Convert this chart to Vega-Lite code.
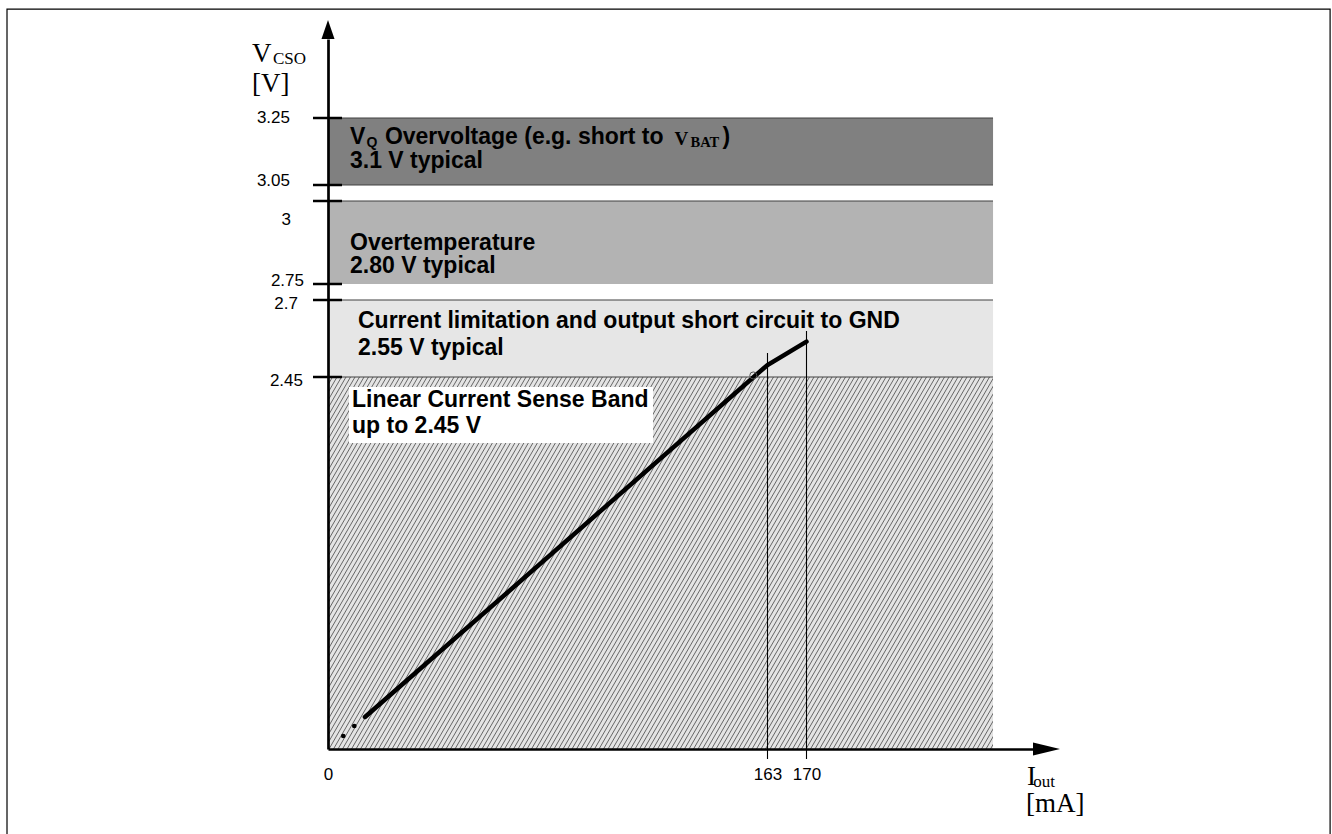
{
  "$schema": "https://vega.github.io/schema/vega-lite/v6.json",
  "width": 665,
  "height": 372,
  "autosize": "none",
  "padding": {"left": 328, "top": 377, "right": 339, "bottom": 85},
  "background": "white",
  "config": {"view": {"stroke": null}},
  "datasets": {
    "bands": [
      {"b": "ov", "lo": 3.05, "hi": 3.25},
      {"b": "ot", "lo": 2.75, "hi": 3.0},
      {"b": "cl", "lo": 2.45, "hi": 2.7},
      {"b": "lin", "lo": 0, "hi": 2.45}
    ],
    "edges": [{"v": 3.25}, {"v": 3.05}, {"v": 3.0}, {"v": 2.7}, {"v": 2.45}],
    "yticks": [{"v": 3.25}, {"v": 3.05}, {"v": 3.0}, {"v": 2.75}, {"v": 2.7}, {"v": 2.45}],
    "ylabels": [
      {"t": "3.25", "x": -14.09, "y": 3.25},
      {"t": "3.05", "x": -14.09, "y": 3.062},
      {"t": "3", "x": -13.72, "y": 2.943},
      {"t": "2.75", "x": -8.9, "y": 2.759},
      {"t": "2.7", "x": -11.13, "y": 2.687},
      {"t": "2.45", "x": -9.27, "y": 2.4236}
    ],
    "curve": [
      {"i": 13.72, "v": 0.211},
      {"i": 163, "v": 2.489},
      {"i": 170, "v": 2.565}
    ],
    "dots": [{"i": 5.67, "v": 0.0856}, {"i": 9.75, "v": 0.1515}],
    "vlines": [{"i": 163, "top": 2.528}, {"i": 170, "top": 2.599}],
    "ring": [{"i": 157.74, "v": 2.455}],
    "bold23": [
      {"t": "V", "x": 8.16, "y": 3.172},
      {"t": "Overvoltage (e.g. short to", "x": 21.1, "y": 3.172},
      {"t": ")", "x": 146.3, "y": 3.172},
      {"t": "3.1 V typical", "x": 8.16, "y": 3.101},
      {"t": "Overtemperature", "x": 8.16, "y": 2.852},
      {"t": "2.80 V typical", "x": 8.16, "y": 2.783},
      {"t": "Current limitation and output short circuit to GND", "x": 11.13, "y": 2.608},
      {"t": "2.55 V typical", "x": 11.13, "y": 2.521},
      {"t": "Linear Current Sense Band", "x": 8.9, "y": 2.254},
      {"t": "up to 2.45 V", "x": 8.9, "y": 2.079}
    ],
    "bold14": [{"t": "Q", "x": 14.28, "y": 3.162}],
    "serifb18": [{"t": "V", "x": 128.5, "y": 3.169}],
    "serifb14": [{"t": "BAT", "x": 134.44, "y": 3.162}],
    "serif27": [
      {"t": "V", "x": -28.19, "y": 3.4145},
      {"t": "[V]", "x": -28.19, "y": 3.3264},
      {"t": "I", "x": 209.58, "y": -0.2371},
      {"t": "[mA]", "x": 209.4, "y": -0.4149}
    ],
    "serif17": [
      {"t": "CSO", "x": -20.4, "y": 3.41},
      {"t": "out", "x": 210.71, "y": -0.247}
    ]
  },
  "layer": [
    {
      "data": {"values": [{}]},
      "mark": {"type": "rect", "filled": false, "stroke": "black", "strokeWidth": 1.2},
      "encoding": {
        "x": {"datum": -119.05, "type": "quantitative"},
        "x2": {"datum": 263.97},
        "y": {"datum": -0.599, "type": "quantitative"},
        "y2": {"datum": 3.57}
      }
    },
    {
      "data": {"name": "bands"},
      "mark": {"type": "rect"},
      "encoding": {
        "x": {"datum": 0, "type": "quantitative"},
        "x2": {"datum": 203.48},
        "y": {"field": "lo", "type": "quantitative"},
        "y2": {"field": "hi"},
        "fill": {"field": "b", "type": "nominal", "scale": {"domain": ["ov", "ot", "cl", "lin"], "range": ["#808080", "#b3b3b3", "#e6e6e6", "#e4e4e4"]}, "legend": null}
      }
    },
    {
      "data": {"values": [{}]},
      "mark": {"type": "point", "clip": true, "size": 4, "filled": false, "stroke": "#666666", "strokeWidth": 1, "opacity": 1,
        "shape": "M-215,0l215,-372m-210.5,372l215,-372m-210.5,372l215,-372m-210.5,372l215,-372m-210.5,372l215,-372m-210.5,372l215,-372m-210.5,372l215,-372m-210.5,372l215,-372m-210.5,372l215,-372m-210.5,372l215,-372m-210.5,372l215,-372m-210.5,372l215,-372m-210.5,372l215,-372m-210.5,372l215,-372m-210.5,372l215,-372m-210.5,372l215,-372m-210.5,372l215,-372m-210.5,372l215,-372m-210.5,372l215,-372m-210.5,372l215,-372m-210.5,372l215,-372m-210.5,372l215,-372m-210.5,372l215,-372m-210.5,372l215,-372m-210.5,372l215,-372m-210.5,372l215,-372m-210.5,372l215,-372m-210.5,372l215,-372m-210.5,372l215,-372m-210.5,372l215,-372m-210.5,372l215,-372m-210.5,372l215,-372m-210.5,372l215,-372m-210.5,372l215,-372m-210.5,372l215,-372m-210.5,372l215,-372m-210.5,372l215,-372m-210.5,372l215,-372m-210.5,372l215,-372m-210.5,372l215,-372m-210.5,372l215,-372m-210.5,372l215,-372m-210.5,372l215,-372m-210.5,372l215,-372m-210.5,372l215,-372m-210.5,372l215,-372m-210.5,372l215,-372m-210.5,372l215,-372m-210.5,372l215,-372m-210.5,372l215,-372m-210.5,372l215,-372m-210.5,372l215,-372m-210.5,372l215,-372m-210.5,372l215,-372m-210.5,372l215,-372m-210.5,372l215,-372m-210.5,372l215,-372m-210.5,372l215,-372m-210.5,372l215,-372m-210.5,372l215,-372m-210.5,372l215,-372m-210.5,372l215,-372m-210.5,372l215,-372m-210.5,372l215,-372m-210.5,372l215,-372m-210.5,372l215,-372m-210.5,372l215,-372m-210.5,372l215,-372m-210.5,372l215,-372m-210.5,372l215,-372m-210.5,372l215,-372m-210.5,372l215,-372m-210.5,372l215,-372m-210.5,372l215,-372m-210.5,372l215,-372m-210.5,372l215,-372m-210.5,372l215,-372m-210.5,372l215,-372m-210.5,372l215,-372m-210.5,372l215,-372m-210.5,372l215,-372m-210.5,372l215,-372m-210.5,372l215,-372m-210.5,372l215,-372m-210.5,372l215,-372m-210.5,372l215,-372m-210.5,372l215,-372m-210.5,372l215,-372m-210.5,372l215,-372m-210.5,372l215,-372m-210.5,372l215,-372m-210.5,372l215,-372m-210.5,372l215,-372m-210.5,372l215,-372m-210.5,372l215,-372m-210.5,372l215,-372m-210.5,372l215,-372m-210.5,372l215,-372m-210.5,372l215,-372m-210.5,372l215,-372m-210.5,372l215,-372m-210.5,372l215,-372m-210.5,372l215,-372m-210.5,372l215,-372m-210.5,372l215,-372m-210.5,372l215,-372m-210.5,372l215,-372m-210.5,372l215,-372m-210.5,372l215,-372m-210.5,372l215,-372m-210.5,372l215,-372m-210.5,372l215,-372m-210.5,372l215,-372m-210.5,372l215,-372m-210.5,372l215,-372m-210.5,372l215,-372m-210.5,372l215,-372m-210.5,372l215,-372m-210.5,372l215,-372m-210.5,372l215,-372m-210.5,372l215,-372m-210.5,372l215,-372m-210.5,372l215,-372m-210.5,372l215,-372m-210.5,372l215,-372m-210.5,372l215,-372m-210.5,372l215,-372m-210.5,372l215,-372m-210.5,372l215,-372m-210.5,372l215,-372m-210.5,372l215,-372m-210.5,372l215,-372m-210.5,372l215,-372m-210.5,372l215,-372m-210.5,372l215,-372m-210.5,372l215,-372m-210.5,372l215,-372m-210.5,372l215,-372m-210.5,372l215,-372m-210.5,372l215,-372m-210.5,372l215,-372m-210.5,372l215,-372m-210.5,372l215,-372m-210.5,372l215,-372m-210.5,372l215,-372m-210.5,372l215,-372m-210.5,372l215,-372m-210.5,372l215,-372m-210.5,372l215,-372m-210.5,372l215,-372m-210.5,372l215,-372m-210.5,372l215,-372m-210.5,372l215,-372m-210.5,372l215,-372m-210.5,372l215,-372m-210.5,372l215,-372m-210.5,372l215,-372m-210.5,372l215,-372m-210.5,372l215,-372m-210.5,372l215,-372m-210.5,372l215,-372m-210.5,372l215,-372m-210.5,372l215,-372m-210.5,372l215,-372m-210.5,372l215,-372m-210.5,372l215,-372m-210.5,372l215,-372m-210.5,372l215,-372m-210.5,372l215,-372m-210.5,372l215,-372m-210.5,372l215,-372m-210.5,372l215,-372m-210.5,372l215,-372m-210.5,372l215,-372m-210.5,372l215,-372m-210.5,372l215,-372m-210.5,372l215,-372m-210.5,372l215,-372m-210.5,372l215,-372m-210.5,372l215,-372m-210.5,372l215,-372m-210.5,372l215,-372m-210.5,372l215,-372m-210.5,372l215,-372m-210.5,372l215,-372m-210.5,372l215,-372m-210.5,372l215,-372m-210.5,372l215,-372m-210.5,372l215,-372m-210.5,372l215,-372m-210.5,372l215,-372m-210.5,372l215,-372m-210.5,372l215,-372m-210.5,372l215,-372m-210.5,372l215,-372m-210.5,372l215,-372m-210.5,372l215,-372m-210.5,372l215,-372m-210.5,372l215,-372m-210.5,372l215,-372m-210.5,372l215,-372m-210.5,372l215,-372m-210.5,372l215,-372m-210.5,372l215,-372m-210.5,372l215,-372m-210.5,372l215,-372m-210.5,372l215,-372m-210.5,372l215,-372m-210.5,372l215,-372m-210.5,372l215,-372m-210.5,372l215,-372m-210.5,372l215,-372m-210.5,372l215,-372m-210.5,372l215,-372m-210.5,372l215,-372m-210.5,372l215,-372m-210.5,372l215,-372m-210.5,372l215,-372m-210.5,372l215,-372m-210.5,372l215,-372m-210.5,372l215,-372m-210.5,372l215,-372m-210.5,372l215,-372m-210.5,372l215,-372m-210.5,372l215,-372m-210.5,372l215,-372m-210.5,372l215,-372m-210.5,372l215,-372m-210.5,372l215,-372m-210.5,372l215,-372m-210.5,372l215,-372m-210.5,372l215,-372m-210.5,372l215,-372m-210.5,372l215,-372m-210.5,372l215,-372m-210.5,372l215,-372m-210.5,372l215,-372m-210.5,372l215,-372m-210.5,372l215,-372m-210.5,372l215,-372m-210.5,372l215,-372m-210.5,372l215,-372m-210.5,372l215,-372m-210.5,372l215,-372m-210.5,372l215,-372m-210.5,372l215,-372m-210.5,372l215,-372m-210.5,372l215,-372m-210.5,372l215,-372m-210.5,372l215,-372m-210.5,372l215,-372m-210.5,372l215,-372m-210.5,372l215,-372m-210.5,372l215,-372m-210.5,372l215,-372m-210.5,372l215,-372m-210.5,372l215,-372m-210.5,372l215,-372m-210.5,372l215,-372m-210.5,372l215,-372m-210.5,372l215,-372m-210.5,372l215,-372m-210.5,372l215,-372m-210.5,372l215,-372m-210.5,372l215,-372m-210.5,372l215,-372m-210.5,372l215,-372"},
      "encoding": {
        "x": {"datum": 0, "type": "quantitative"},
        "y": {"datum": 0, "type": "quantitative"}
      }
    },
    {
      "data": {"name": "edges"},
      "mark": {"type": "rule", "stroke": "#404040", "strokeWidth": 1.2},
      "encoding": {
        "x": {"datum": 0, "type": "quantitative"},
        "x2": {"datum": 203.48},
        "y": {"field": "v", "type": "quantitative"}
      }
    },
    {
      "data": {"values": [{}]},
      "mark": {"type": "rect", "fill": "white"},
      "encoding": {
        "x": {"datum": 7.79, "type": "quantitative"},
        "x2": {"datum": 120.53},
        "y": {"datum": 2.015, "type": "quantitative"},
        "y2": {"datum": 2.384}
      }
    },
    {
      "data": {"name": "vlines"},
      "mark": {"type": "rule", "stroke": "black", "strokeWidth": 1.1},
      "encoding": {
        "x": {"field": "i", "type": "quantitative"},
        "y": {"field": "top", "type": "quantitative"},
        "y2": {"datum": -0.0659}
      }
    },
    {
      "data": {"name": "curve"},
      "mark": {"type": "line", "color": "black", "strokeWidth": 4.5, "strokeCap": "round"},
      "encoding": {
        "x": {"field": "i", "type": "quantitative",
          "scale": {"domain": [0, 163, 170, 210.65], "range": [0, 439.5, 478.5, 705], "zero": false, "nice": false},
          "axis": {"values": [0, 163, 170], "title": null, "ticks": false, "tickSize": 0, "grid": false, "domain": true, "domainColor": "black", "domainWidth": 2.7, "labelFont": "Liberation Sans", "labelFontSize": 17, "labelColor": "black", "labelPadding": 17, "labelFlush": false, "labelOverlap": false, "labelExpr": "'' + datum.value", "zindex": 1}},
        "y": {"field": "v", "type": "quantitative",
          "scale": {"domain": [0, 2.45, 2.7, 2.75, 3.0, 3.05, 3.25, 3.482], "range": [372, 0, -77, -93, -176, -192, -259, -338], "zero": false, "nice": false},
          "axis": {"title": null, "ticks": false, "labels": false, "grid": false, "domain": true, "domainColor": "black", "domainWidth": 2.7, "zindex": 1}}
      }
    },
    {
      "data": {"name": "dots"},
      "mark": {"type": "point", "filled": true, "color": "black", "size": 22, "opacity": 1},
      "encoding": {
        "x": {"field": "i", "type": "quantitative"},
        "y": {"field": "v", "type": "quantitative"}
      }
    },
    {
      "data": {"name": "ring"},
      "mark": {"type": "point", "filled": false, "stroke": "#555555", "strokeWidth": 1, "size": 50, "opacity": 1},
      "encoding": {
        "x": {"field": "i", "type": "quantitative"},
        "y": {"field": "v", "type": "quantitative"}
      }
    },
    {
      "data": {"name": "yticks"},
      "mark": {"type": "rule", "stroke": "black", "strokeWidth": 2.5},
      "encoding": {
        "x": {"datum": -5.56, "type": "quantitative"},
        "x2": {"datum": 5.19},
        "y": {"field": "v", "type": "quantitative"}
      }
    },
    {
      "data": {"name": "ylabels"},
      "mark": {"type": "text", "font": "Liberation Sans", "fontSize": 17, "align": "right", "baseline": "middle", "color": "black"},
      "encoding": {
        "x": {"field": "x", "type": "quantitative"},
        "y": {"field": "y", "type": "quantitative"},
        "text": {"field": "t"}
      }
    },
    {
      "data": {"values": [{}]},
      "mark": {"type": "point", "shape": "M0,0L-6.5,19L6.5,19Z", "size": 4, "filled": true, "color": "black", "opacity": 1, "strokeWidth": 0},
      "encoding": {
        "x": {"datum": 0, "type": "quantitative"},
        "y": {"datum": 3.5378, "type": "quantitative"}
      }
    },
    {
      "data": {"values": [{}]},
      "mark": {"type": "point", "shape": "M0,0L-27,-6.5L-27,6.5Z", "size": 4, "filled": true, "color": "black", "opacity": 1, "strokeWidth": 0},
      "encoding": {
        "x": {"datum": 215.5, "type": "quantitative"},
        "y": {"datum": 0, "type": "quantitative"}
      }
    },
    {
      "data": {"name": "bold23"},
      "mark": {"type": "text", "font": "Liberation Sans", "fontWeight": "bold", "fontSize": 23, "align": "left", "baseline": "alphabetic", "color": "black"},
      "encoding": {
        "x": {"field": "x", "type": "quantitative"},
        "y": {"field": "y", "type": "quantitative"},
        "text": {"field": "t"}
      }
    },
    {
      "data": {"name": "bold14"},
      "mark": {"type": "text", "font": "Liberation Sans", "fontWeight": "bold", "fontSize": 14, "align": "left", "baseline": "alphabetic", "color": "black"},
      "encoding": {
        "x": {"field": "x", "type": "quantitative"},
        "y": {"field": "y", "type": "quantitative"},
        "text": {"field": "t"}
      }
    },
    {
      "data": {"name": "serifb18"},
      "mark": {"type": "text", "font": "Liberation Serif", "fontWeight": "bold", "fontSize": 19, "align": "left", "baseline": "alphabetic", "color": "black"},
      "encoding": {
        "x": {"field": "x", "type": "quantitative"},
        "y": {"field": "y", "type": "quantitative"},
        "text": {"field": "t"}
      }
    },
    {
      "data": {"name": "serifb14"},
      "mark": {"type": "text", "font": "Liberation Serif", "fontWeight": "bold", "fontSize": 14.5, "align": "left", "baseline": "alphabetic", "color": "black"},
      "encoding": {
        "x": {"field": "x", "type": "quantitative"},
        "y": {"field": "y", "type": "quantitative"},
        "text": {"field": "t"}
      }
    },
    {
      "data": {"name": "serif27"},
      "mark": {"type": "text", "font": "Liberation Serif", "fontSize": 27, "align": "left", "baseline": "alphabetic", "color": "black"},
      "encoding": {
        "x": {"field": "x", "type": "quantitative"},
        "y": {"field": "y", "type": "quantitative"},
        "text": {"field": "t"}
      }
    },
    {
      "data": {"name": "serif17"},
      "mark": {"type": "text", "font": "Liberation Serif", "fontSize": 17, "align": "left", "baseline": "alphabetic", "color": "black"},
      "encoding": {
        "x": {"field": "x", "type": "quantitative"},
        "y": {"field": "y", "type": "quantitative"},
        "text": {"field": "t"}
      }
    }
  ]
}
